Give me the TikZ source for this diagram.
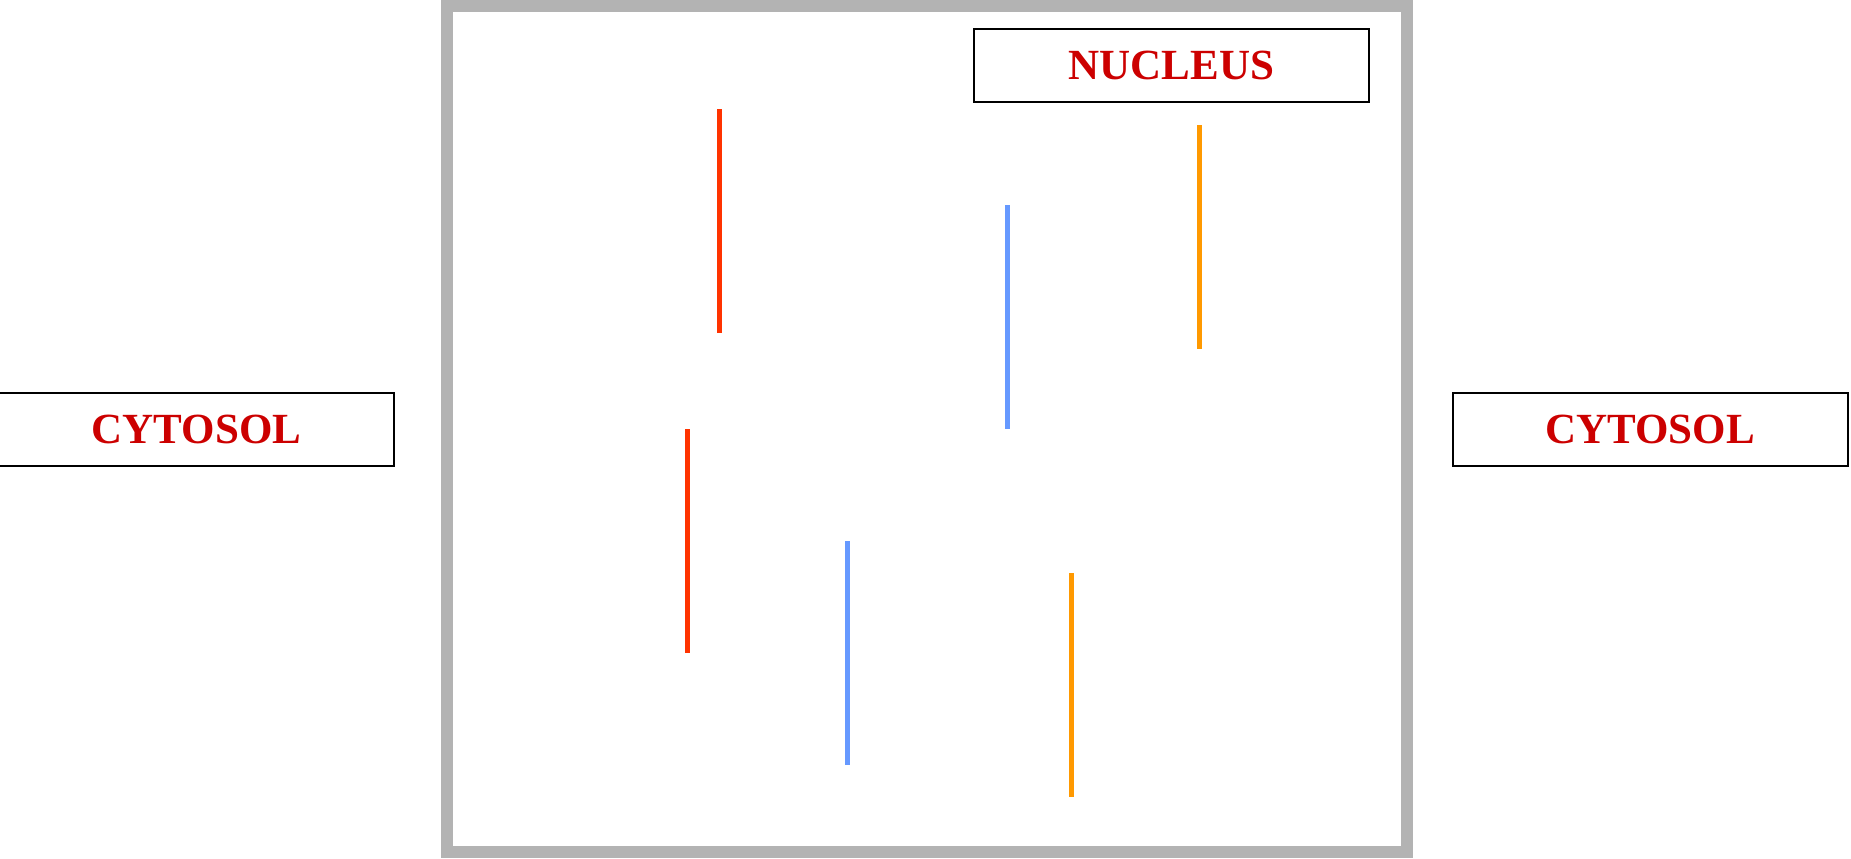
\documentclass[tikz,border=0pt]{standalone}
\usepackage{fontspec}
\setmainfont{Liberation Serif}
\definecolor{labelred}{HTML}{CC0000}
\definecolor{framegray}{HTML}{B3B3B3}
\definecolor{strandred}{HTML}{FF3300}
\definecolor{strandblue}{HTML}{6699FF}
\definecolor{strandorange}{HTML}{FF9900}
\tikzset{
  compartment/.style={draw=black, line width=1pt, minimum width=197.5pt, minimum height=36.5pt, inner sep=0pt, text=labelred},
  strand/.style={line width=2.5pt}
}
\begin{document}
\begin{tikzpicture}[x=0.5pt, y=-0.5pt, every node/.style={font=\fontsize{21.5}{24}\selectfont\bfseries}]
	\useasboundingbox (0,0) rectangle (1851,858);
	\draw[framegray, line width=6pt] (447,6) rectangle (1407,852);
	\node[compartment] (nucleus) at (1171.5,65.5) {NUCLEUS};
	\node[compartment] (cytosolL) at (196.5,429.5) {CYTOSOL};
	\node[compartment] (cytosolR) at (1650,429.5) {CYTOSOL};
	\foreach \x/\y/\c in {719/109/strandred, 687/429/strandred, 1007/205/strandblue, 847/541/strandblue, 1199/125/strandorange, 1071/573/strandorange} {\draw[strand, \c] (\x,\y) -- ++(0,224);}
\end{tikzpicture}
\end{document}
